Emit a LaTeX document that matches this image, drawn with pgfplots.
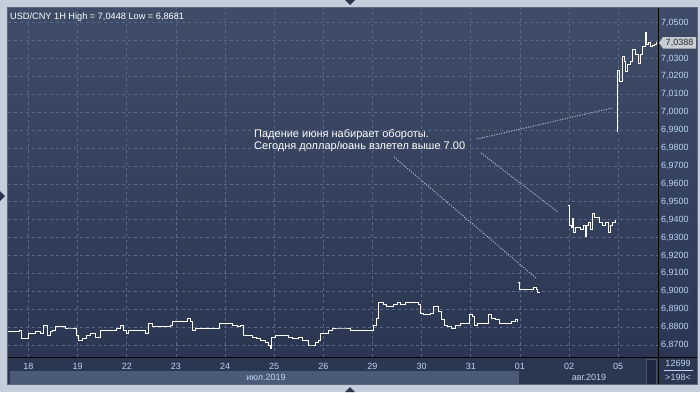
\documentclass[border=0pt]{standalone}
\usepackage{pgfplots}
\pgfplotsset{compat=1.18}
\usepackage{fontspec}
\setmainfont{Liberation Sans}
\definecolor{frame}{HTML}{C4CEDA}
\definecolor{bgtop}{HTML}{3F4C68}
\definecolor{bgbot}{HTML}{2B3752}
\definecolor{gridc}{HTML}{58678A}
\definecolor{lbl}{HTML}{BCD4F4}
\definecolor{rowlight}{HTML}{4B5A77}
\definecolor{rowdark}{HTML}{2B3651}
\definecolor{dotc}{HTML}{B8C2D2}
\definecolor{tagc}{HTML}{C8CDD4}
\definecolor{scrollc}{HTML}{1E2840}
\definecolor{scrollb}{HTML}{45546F}
\definecolor{edgec}{HTML}{5A6680}
\definecolor{triac}{HTML}{2B3550}
\begin{document}
\begin{tikzpicture}[font=\fontsize{9}{10}\selectfont]
\begin{scope}[x=1pt,y=-1pt,shift={(0pt,392pt)}]
\fill[frame] (0,0) rectangle (700,392);
\fill[top color=bgtop,bottom color=bgbot] (8,8) rectangle (658,357);
\fill[top color=bgtop,bottom color=bgbot] (658,8) rectangle (697,357);
\fill[rowdark] (8,357) rectangle (697,384);
\fill[rowlight] (10,371) rectangle (519,384);
\fill[scrollc] (646,359) rectangle (656,384);
\draw[scrollb] (646,359) rectangle (656,384);
\draw[edgec] (7.5,7.5) rectangle (697.5,384.5);
\fill[triac] (345,0) -- (355,0) -- (350,5) -- cycle;
\fill[triac] (345,392) -- (355,392) -- (350,387) -- cycle;
\fill[triac] (0,191) -- (0,201) -- (5,196) -- cycle;
\end{scope}
\begin{axis}[at={(8pt,35pt)}, anchor=south west, width=650pt, height=349pt, scale only axis,
  xmin=-0.417, xmax=12.81, ymin=6.8633, ymax=7.0582,
  axis line style={draw=none}, grid=major,
  major grid style={gridc, dash pattern=on 3pt off 3pt, line width=0.6pt},
  major tick length=0pt, tick style={draw=none},
  xtick={0,1,2,3,4,5,6,7,8,9,10,11,12},
  xticklabels={18,19,22,23,24,25,26,29,30,31,01,02,05},
  ytick={6.87,6.88,6.89,6.90,6.91,6.92,6.93,6.94,6.95,6.96,6.97,6.98,6.99,7.00,7.01,7.02,7.03,7.04,7.05},
  yticklabels={{6,8700},{6,8800},{6,8900},{6,9000},{6,9100},{6,9200},{6,9300},{6,9400},{6,9500},{6,9600},{6,9700},{6,9800},{6,9900},{7,0000},{7,0100},{7,0200},{7,0300},{},{7,0500}},
  yticklabel pos=right,
  ticklabel style={lbl, font=\fontsize{9}{10}\selectfont},
  xticklabel style={yshift=-3pt},
  yticklabel style={xshift=-0.5pt},
  clip=true]
\addplot[const plot, white, line width=0.9pt] coordinates {
(-0.417,6.8773) (-0.315,6.8773) (-0.193,6.8779) (-0.153,6.8734) (-0.051,6.8734) (-0.010,6.8767)
(0.071,6.8767) (0.132,6.8773) (0.234,6.8767) (0.295,6.8812) (0.336,6.8807) (0.376,6.8756)
(0.438,6.8773) (0.478,6.8784) (0.539,6.8801) (0.641,6.8801) (0.743,6.8795) (0.845,6.8795)
(0.967,6.8751) (1.007,6.8723) (1.089,6.8734) (1.170,6.8751) (1.251,6.8762) (1.353,6.8740)
(1.455,6.8784) (1.597,6.8784) (1.699,6.8784) (1.781,6.8790) (1.862,6.8812) (1.923,6.8784)
(1.984,6.8762) (2.025,6.8784) (2.167,6.8784) (2.269,6.8779) (2.371,6.8767) (2.432,6.8818)
(2.513,6.8801) (2.676,6.8801) (2.778,6.8801) (2.880,6.8807) (2.920,6.8829) (3.083,6.8829)
(3.144,6.8834) (3.226,6.8846) (3.287,6.8829) (3.327,6.8779) (3.388,6.8790) (3.490,6.8790)
(3.694,6.8790) (3.795,6.8790) (3.877,6.8818) (3.999,6.8818) (4.141,6.8812) (4.243,6.8801)
(4.304,6.8807) (4.365,6.8756) (4.467,6.8751) (4.548,6.8745) (4.630,6.8734) (4.711,6.8728)
(4.813,6.8712) (4.874,6.8695) (4.915,6.8681) (4.936,6.8745) (5.016,6.8756) (5.220,6.8756)
(5.281,6.8745) (5.362,6.8734) (5.484,6.8745) (5.566,6.8728) (5.647,6.8723) (5.688,6.8700)
(5.749,6.8700) (5.830,6.8717) (5.891,6.8723) (5.932,6.8762) (6.013,6.8767) (6.095,6.8779)
(6.176,6.8795) (6.339,6.8795) (6.441,6.8795) (6.542,6.8784) (6.644,6.8779) (6.746,6.8779)
(6.807,6.8779) (6.909,6.8784) (6.970,6.8784) (7.011,6.8812) (7.072,6.8851) (7.113,6.8935)
(7.153,6.8935) (7.214,6.8924) (7.275,6.8913) (7.357,6.8918) (7.418,6.8929) (7.499,6.8935)
(7.560,6.8929) (7.662,6.8935) (7.764,6.8935) (7.865,6.8935) (7.926,6.8924) (7.967,6.8879)
(8.028,6.8868) (8.089,6.8873) (8.170,6.8879) (8.231,6.8913) (8.292,6.8913) (8.333,6.8885)
(8.394,6.8840) (8.455,6.8807) (8.516,6.8801) (8.597,6.8795) (8.679,6.8812) (8.781,6.8823)
(8.883,6.8823) (8.964,6.8868) (9.025,6.8862) (9.066,6.8812) (9.127,6.8818) (9.188,6.8823)
(9.269,6.8823) (9.351,6.8868) (9.412,6.8846) (9.493,6.8840) (9.575,6.8823) (9.656,6.8818)
(9.758,6.8818) (9.819,6.8829) (9.900,6.8840) (9.941,6.8834) (9.961,6.8834)
};
\addplot[const plot, white, line width=0.9pt] coordinates {
(9.961,6.9052) (9.981,6.9013) (10.042,6.9008) (10.124,6.9008) (10.205,6.9013) (10.266,6.9024)
(10.327,6.9013) (10.348,6.8996) (10.409,6.8996)
};
\addplot[const plot, white, line width=0.9pt] coordinates {
(10.979,6.9482) (10.999,6.9370) (11.040,6.9354) (11.060,6.9404) (11.081,6.9331) (11.121,6.9354)
(11.182,6.9359) (11.223,6.9348) (11.284,6.9365) (11.325,6.9309) (11.345,6.9365) (11.386,6.9387)
(11.427,6.9343) (11.467,6.9437) (11.508,6.9415) (11.569,6.9415) (11.610,6.9382) (11.671,6.9370)
(11.732,6.9387) (11.793,6.9326) (11.834,6.9365) (11.874,6.9387) (11.935,6.9393) (11.955,6.9393)
};
\addplot[const plot, white, line width=0.9pt] coordinates {
(11.976,6.9890) (11.986,7.0236) (12.017,7.0174) (12.058,7.0174) (12.078,7.0314) (12.119,7.0281)
(12.139,7.0225) (12.180,7.0269) (12.241,7.0281) (12.281,7.0348) (12.342,7.0325) (12.403,7.0275)
(12.444,7.0320) (12.485,7.0370) (12.546,7.0448) (12.566,7.0381) (12.607,7.0387) (12.648,7.0370)
(12.688,7.0375) (12.729,7.0381) (12.770,7.0388) (12.790,7.0388)
};
\end{axis}
\begin{scope}[x=1pt,y=-1pt,shift={(0pt,392pt)}]
\draw[black, line width=1pt] (8,357.5) -- (697,357.5);
\draw[black, line width=1pt] (658,8) -- (658,384);
\fill[tagc] (663,37) -- (696,37) -- (696,48.5) -- (663,48.5) -- (659,42.75) -- cycle;
\node[text=black!85, inner sep=0] at (679.5,42.9) {7,0388};
\node[anchor=base west, inner sep=0, text=white, font=\fontsize{9.2}{11}\selectfont] at (10,19) {USD/CNY 1H High = 7,0448 Low = 6,8681};
\node[anchor=base west, inner sep=0, text=white, font=\fontsize{11}{12}\selectfont] at (254,137) {Падение июня набирает обороты.};
\node[anchor=base west, inner sep=0, text=white, font=\fontsize{11}{12}\selectfont] at (254,149) {Сегодня доллар/юань взлетел выше 7.00};
\draw[dotc, line width=1pt, dash pattern=on 1pt off 1.5pt] (477,139) -- (612,108);
\draw[dotc, line width=1pt, dash pattern=on 1pt off 1.5pt] (481,153) -- (558,212);
\draw[dotc, line width=1pt, dash pattern=on 1pt off 1.5pt] (394,157) -- (536,278);
\node[text=lbl] at (266,377) {июл.2019};
\node[text=lbl] at (589,377) {авг.2019};
\node[text=lbl] at (678,363.5) {12699};
\draw[lbl, line width=0.6pt] (664,370.5) -- (693,370.5);
\node[text=lbl] at (678,377.5) {>198<};
\end{scope}
\end{tikzpicture}
\end{document}
